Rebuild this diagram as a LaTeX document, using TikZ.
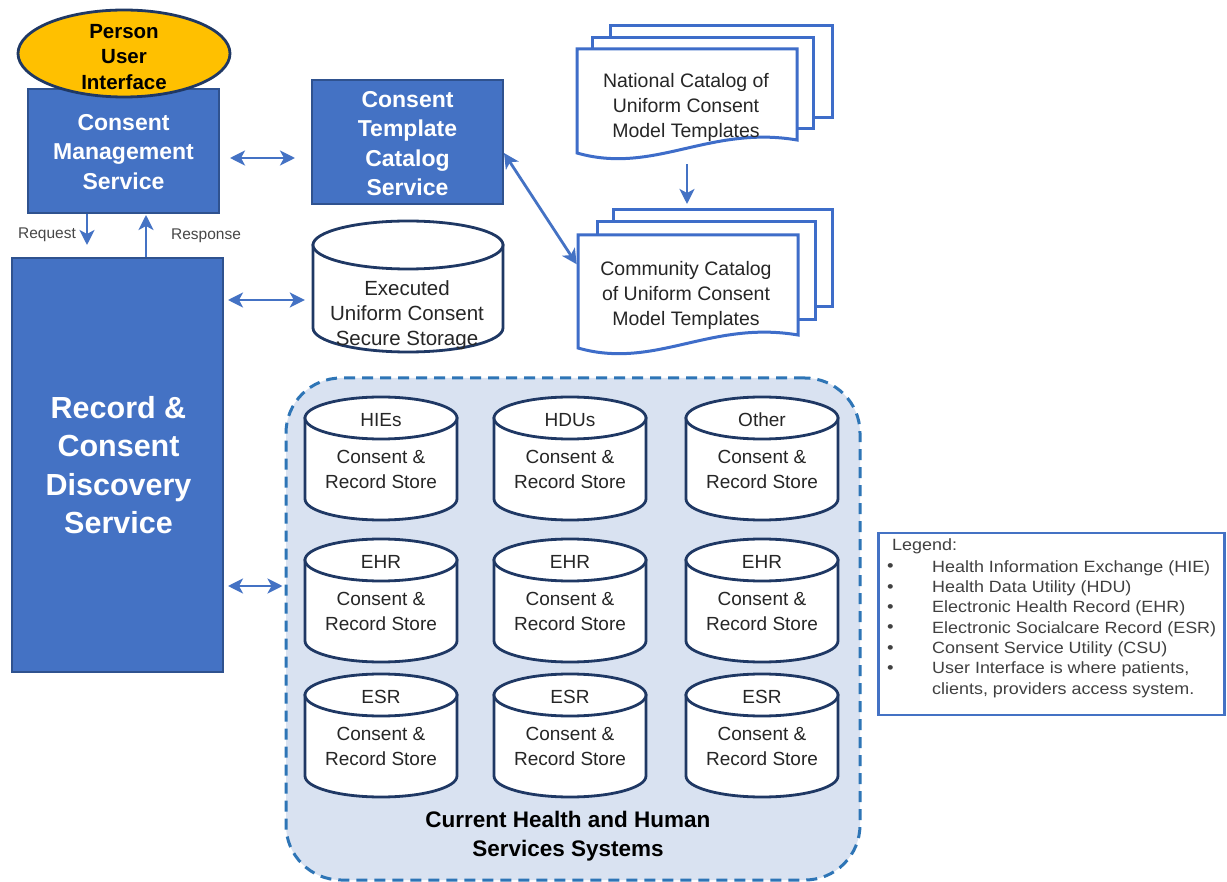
\documentclass[tikz,border=0pt]{standalone}
\usepackage{fontspec}
\setmainfont{Liberation Sans}
\newfontfamily\legendfont[FakeStretch=1.1]{Liberation Sans}
\usetikzlibrary{arrows.meta,calc,shapes.geometric}

\definecolor{boxblue}{HTML}{4472C4}
\definecolor{boxedge}{HTML}{2F528F}
\definecolor{arrowblue}{HTML}{4472C4}
\definecolor{docblue}{HTML}{3E6DC9}
\definecolor{navy}{HTML}{1F3864}
\definecolor{regionfill}{HTML}{D9E2F1}
\definecolor{regionedge}{HTML}{2E75B6}
\definecolor{uiyellow}{HTML}{FFC000}
\definecolor{inktext}{HTML}{262626}
\definecolor{legendgray}{HTML}{404040}

\tikzset{
  svcbox/.style={draw=boxedge, line width=2pt, fill=boxblue, inner sep=0pt},
  svctext/.style={text=white, align=center, inner sep=0pt,
    font=\fontsize{23}{29.5}\selectfont\bfseries},
  dbl/.style={draw=arrowblue, line width=2.8pt, {Stealth[length=15pt,width=15pt,inset=4pt]}-{Stealth[length=15pt,width=15pt,inset=4pt]}},
  one/.style={draw=arrowblue, line width=2.8pt, -{Stealth[length=15pt,width=15pt,inset=4pt]}},
  drumline/.style={draw=navy, line width=2.8pt, fill=white},
  drumtop/.style={text=inktext, inner sep=0pt, font=\fontsize{19}{25}\selectfont},
  drumtxt/.style={text=inktext, inner sep=0pt, align=center, font=\fontsize{19}{25}\selectfont},
  docline/.style={draw=docblue, line width=3pt, fill=white, line join=miter},
  doctxt/.style={text=inktext, inner sep=0pt, align=center, font=\fontsize{19.5}{25}\selectfont},
  smalllbl/.style={text=inktext!85, inner sep=0pt, font=\fontsize{15.5}{18}\selectfont},
}

% storage drum: name, centre x, top y, width, height, cap radius
\newcommand\drum[6]{%
  \node[inner sep=0pt, minimum width=#4pt, minimum height=#5pt] (#1) at (#2,{#3+#5/2}) {};
  \filldraw[drumline] ({#2-#4/2},{#3+#6}) -- ({#2-#4/2},{#3+#5-#6})
    .. controls ({#2-#4/2},{#3+#5-#6+0.5523*#6}) and ({#2-0.5523*#4/2},{#3+#5}) .. (#2,{#3+#5})
    .. controls ({#2+0.5523*#4/2},{#3+#5}) and ({#2+#4/2},{#3+#5-#6+0.5523*#6}) .. ({#2+#4/2},{#3+#5-#6})
    -- ({#2+#4/2},{#3+#6}) -- cycle;
  \filldraw[drumline] (#2,{#3+#6}) ellipse [x radius=#4/2, y radius=#6];
}

% front page of a document stack with a wavy lower edge: name, L, T, R, B
\newcommand\wavedoc[5]{%
  \node[inner sep=0pt, minimum width={(#4-#2)*1pt}, minimum height={(#5-#3)*1pt}] (#1) at ({(#2+#4)/2},{(#3+#5)/2}) {};
  \filldraw[docline] (#2,#3) -- (#4,#3) -- (#4,{#5-13})
    .. controls ({#2+0.6*(#4-#2)},{#5-28}) and ({#2+0.35*(#4-#2)},{#5+22}) .. (#2,#5) -- cycle;
}

% page behind the front one: name, L, T, R, B
\newcommand\backdoc[5]{%
  \node[docline, inner sep=0pt, outer sep=0pt, minimum width={(#4-#2)*1pt}, minimum height={(#5-#3)*1pt}] (#1) at ({(#2+#4)/2},{(#3+#5)/2}) {};
}

\newcommand\lgbullet{\makebox[45pt][l]{\fontsize{17}{17}\selectfont\raisebox{0.5pt}{•}}}

\begin{document}
\begin{tikzpicture}[x=1pt, y=-1pt]
\useasboundingbox (0,0) rectangle (1227,882);
\fill[white] (0,0) rectangle (1227,882);

% ---- systems region ----
\node[draw=regionedge, fill=regionfill, line width=3pt, dash pattern=on 11pt off 7pt,
      rounded corners=55pt, minimum width=574pt, minimum height=502pt] (sys) at (573,629) {};

% ---- service boxes ----
\node[svcbox, minimum width=191pt, minimum height=124pt] (cms) at (123.5,151) {};
\node[svctext] (cmstext) at (123.5,152) {Consent\\Management\\Service};

\node[draw=navy, line width=2.8pt, fill=uiyellow, ellipse, inner sep=0pt,
      minimum width=212pt, minimum height=87pt] (ui) at (124,53.5) {};
\node[inner sep=0pt, align=center, font=\fontsize{20.5}{25.5}\selectfont\bfseries] (uitext) at (124,57) {Person\\User\\Interface};

\node[svcbox, minimum width=191pt, minimum height=124pt] (ctcs) at (407.5,142) {};
\node[svctext] (ctcstext) at (407.5,143.5) {Consent\\Template\\Catalog\\Service};

\node[svcbox, minimum width=211pt, minimum height=414pt] (rcds) at (117.5,465) {};
\node[svctext, font=\fontsize{30.5}{38.5}\selectfont\bfseries] (rcdstext) at (118.5,465) {Record \&\\Consent\\Discovery\\Service};

% ---- executed consent storage ----
\drum{ex}{408}{221}{190}{131}{24}
\node[drumtxt, font=\fontsize{20.5}{25}\selectfont] (extext) at (407,315) {Executed\\Uniform Consent\\Secure Storage};

% ---- template catalogues ----
\backdoc{natr}{610}{26}{832}{118}
\backdoc{natm}{592}{38}{813}{129}
\wavedoc{natf}{577}{49}{797}{153}
\node[doctxt] (nattext) at (686,107) {National Catalog of\\Uniform Consent\\Model Templates};

\backdoc{commr}{613}{210}{832}{307}
\backdoc{commm}{597}{222}{815}{320}
\wavedoc{commf}{578}{235}{798}{348}
\node[doctxt] (commtext) at (686,295) {Community Catalog\\of Uniform Consent\\Model Templates};

% ---- consent and record stores ----
\foreach \nm/\cx/\top/\lbl in {
    s11/381/397/HIEs, s12/570/397/HDUs, s13/762/397/Other,
    s21/381/539/EHR, s22/570/539/EHR, s23/762/539/EHR,
    s31/381/674/ESR, s32/570/674/ESR, s33/762/674/ESR}{
  \drum{\nm}{\cx}{\top}{152}{123}{21}
  \node[drumtop] (\nm-lbl) at (\cx,\top+23) {\lbl};
  \node[drumtxt] (\nm-txt) at (\cx,\top+72) {Consent \&\\Record Store};
}

\node[inner sep=0pt, align=center, text=black, font=\fontsize{22.5}{29}\selectfont\bfseries] (systitle) at (568,836.5)
  {Current Health and Human\\Services Systems};

% ---- connectors ----
\draw[dbl, shorten <=10pt, shorten >=16pt] (cms.east |- 0,158) -- (ctcs.west |- 0,158);
\draw[one, shorten >=12pt] (cms.south -| 87,0) -- (rcds.north -| 87,0);
\draw[one, shorten >=1pt] (rcds.north -| 146,0) -- (cms.south -| 146,0);
\node[smalllbl] (reqlbl) at (47,235) {Request};
\node[smalllbl] (resplbl) at (206,236) {Response};
\draw[dbl, shorten <=4pt, shorten >=8pt] (rcds.east |- 0,300) -- (ex.west |- 0,300);
\draw[dbl, shorten <=4pt, shorten >=2pt] (rcds.east |- 0,586) -- (sys.west |- 0,586);
\draw[dbl, shorten >=2pt] (ctcs.east |- 0,153) -- (commf.west |- 0,266);
\draw[one, shorten <=11pt, shorten >=6pt] (natf.south -| 687,0) -- (commr.north -| 687,0);

% ---- legend ----
\node[draw=boxblue, line width=2.5pt, fill=white, minimum width=346pt, minimum height=182pt] (legend) at (1051.5,624) {};
\node[anchor=north west, align=left, inner sep=0pt, text=legendgray,
      font=\legendfont\fontsize{16.3}{20.3}\selectfont] (legtext) at (887,538) {%
  \hspace*{5pt}Legend:\\[2pt]
  \lgbullet Health Information Exchange (HIE)\\
  \lgbullet Health Data Utility (HDU)\\
  \lgbullet Electronic Health Record (EHR)\\
  \lgbullet Electronic Socialcare Record (ESR)\\
  \lgbullet Consent Service Utility (CSU)\\
  \lgbullet User Interface is where patients,\\
  \hspace*{45pt}clients, providers access system.};
\end{tikzpicture}
\end{document}
